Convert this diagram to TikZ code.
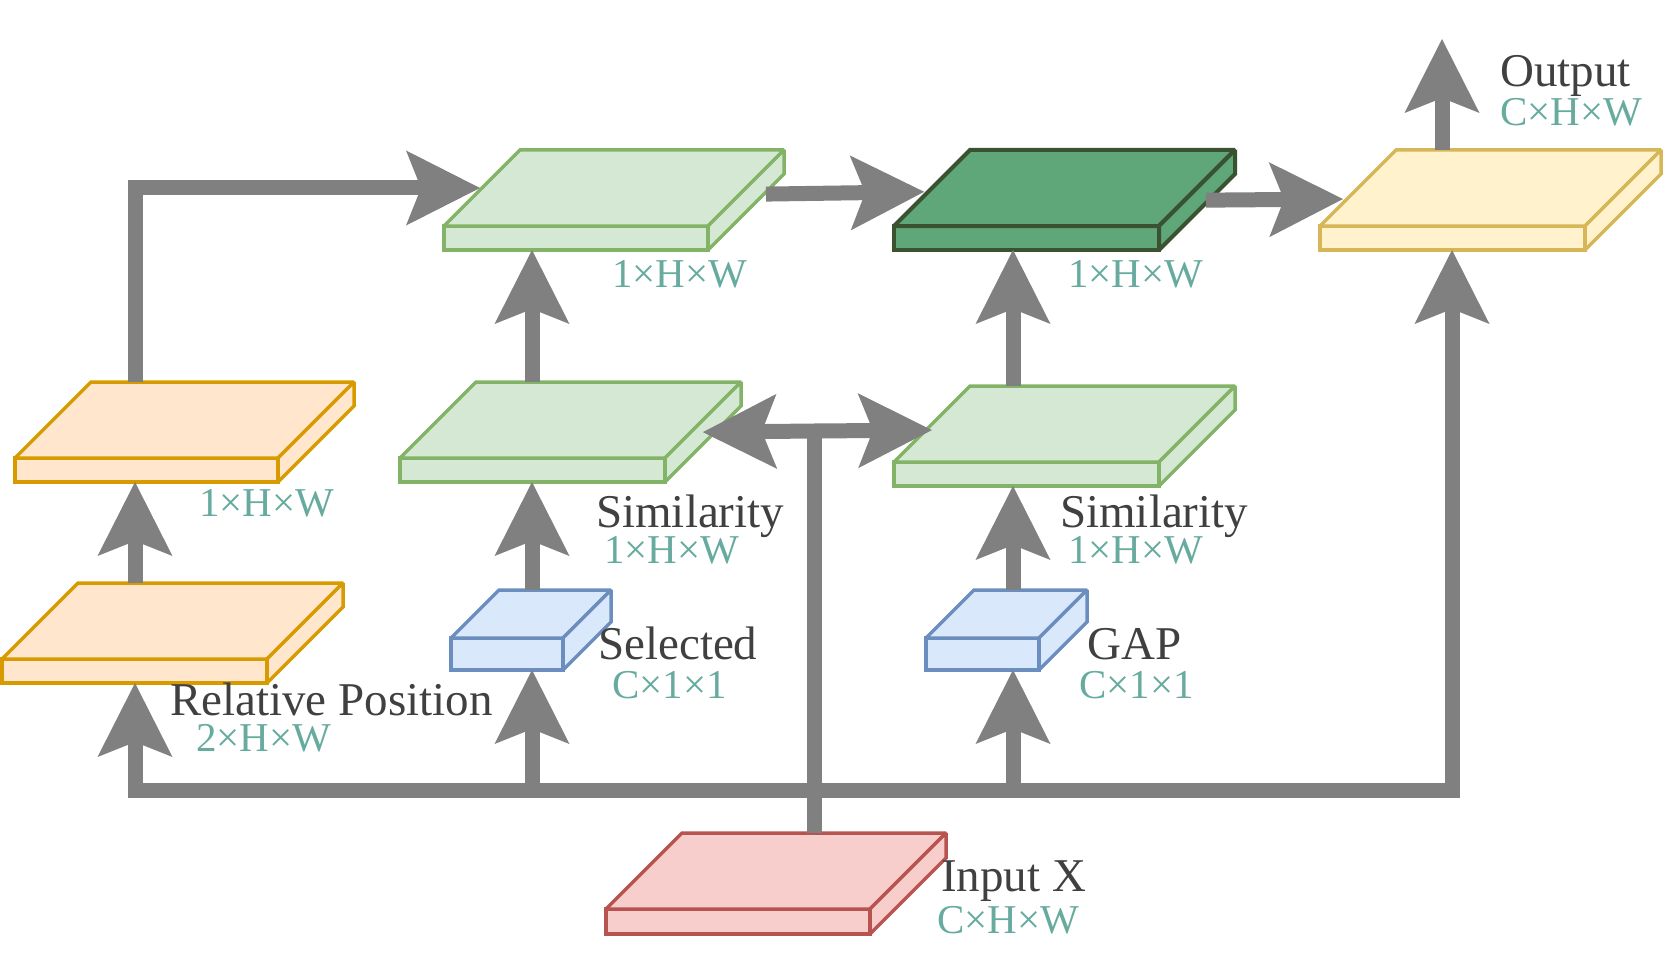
\documentclass[tikz,border=0pt]{standalone}
\usepackage{fontspec}
\setmainfont{Liberation Serif}
\usepackage{xcolor}
\usetikzlibrary{arrows.meta,positioning,calc}

\definecolor{flowgray}{HTML}{808080}
\definecolor{labeltext}{HTML}{404040}
\definecolor{dimtext}{HTML}{67AB9F}
\definecolor{orangefill}{HTML}{FFE6CC}
\definecolor{orangeline}{HTML}{D79B00}
\definecolor{greenfill}{HTML}{D5E8D4}
\definecolor{greenline}{HTML}{82B366}
\definecolor{darkfill}{HTML}{5FA779}
\definecolor{darkline}{HTML}{3A5230}
\definecolor{yellowfill}{HTML}{FFF2CC}
\definecolor{yellowline}{HTML}{D6B656}
\definecolor{bluefill}{HTML}{DAE8FC}
\definecolor{blueline}{HTML}{6C8EBF}
\definecolor{redfill}{HTML}{F8CECC}
\definecolor{redline}{HTML}{B85450}

% name, style, front top-left, width, height, depth
\newcommand{\slab}[6]{%
  \node[slabfront,#2,minimum width=#4pt,minimum height=#5pt,anchor=north west] (#1) at #3 {};
  \coordinate (#1-nw) at ($(#1.north west)+(#6,-#6)$);
  \coordinate (#1-ne) at ($(#1.north east)+(#6,-#6)$);
  \draw[#2] (#1.north west) -- (#1-nw) -- (#1-ne) -- (#1.north east) -- cycle;
  \draw[#2] (#1.north east) -- (#1-ne) -- ++(0,#5) -- (#1.south east) -- cycle;
}

\begin{document}
\begin{tikzpicture}[x=1pt,y=-1pt]
        \tikzstyle{slabfront}
	  =[rectangle, inner sep=0pt, outer sep=0pt]
        \tikzstyle{slabline}=[line width=3.5pt, miter limit=2]
        \tikzstyle{orangeslab}=[slabline, draw=orangeline, fill=orangefill]
        \tikzstyle{greenslab}=[slabline, draw=greenline, fill=greenfill]
        \tikzstyle{darkslab}=[slabline, draw=darkline, fill=darkfill, line width=4pt]
        \tikzstyle{yellowslab}=[slabline, draw=yellowline, fill=yellowfill]
        \tikzstyle{blueslab}=[slabline, draw=blueline, fill=bluefill]
        \tikzstyle{redslab}=[slabline, draw=redline, fill=redfill]
        \tikzstyle{pipe}=[draw=flowgray, line width=15pt]
        \tikzstyle{flow}=[pipe,
	  -{Stealth[length=74pt, width=75pt, inset=15pt, line width=0pt]}]
        \tikzstyle{lbl}
	  =[text=labeltext, inner sep=0pt, anchor=base west,
	  font=\fontsize{47}{56}\selectfont]
        \tikzstyle{dim}
	  =[text=dimtext, inner sep=0pt, anchor=base west,
	  font=\fontsize{41}{49}\selectfont]

	\useasboundingbox (0,0) rectangle (1672,960);

	\slab{posattn}{greenslab}{(444,226)}{264}{24}{76}
	\slab{fused}{darkslab}{(894,226)}{265}{24}{76}
	\slab{output}{yellowslab}{(1320,226)}{265}{24}{76}
	\slab{posmap}{orangeslab}{(15,458)}{263}{24}{76}
	\slab{simsel}{greenslab}{(400,458)}{265}{24}{76}
	\slab{simgap}{greenslab}{(894,462)}{265}{24}{76}
	\slab{relpos}{orangeslab}{(2,659)}{265}{24}{76}
	\slab{selvec}{blueslab}{(451,638)}{112}{32}{48}
	\slab{gapvec}{blueslab}{(926,638)}{113}{32}{48}
	\slab{input}{redslab}{(606,909)}{264}{25}{76}

	\coordinate (busA) at (135,790);
	\coordinate (busB) at (532,790);
	\coordinate (busX) at (814,790);
	\coordinate (busC) at (1013,790);
	\coordinate (busD) at (1452,790);
	\coordinate (tee) at (814,431);
	\coordinate (top) at (1442,39);

	\draw[flow] (busX) -- (busA) -- (busA |- relpos.south);
	\draw[flow] (busX) -- (busD) -- (busD |- output.south);
	\draw[flow] (busB) -- (busB |- selvec.south);
	\draw[flow] (busC) -- (busC |- gapvec.south);
	\draw[pipe] (busX |- input-nw) -- (tee);
	\draw[flow] (tee)
	  -- ([xshift=12pt]$(simsel.north east)!0.34!(simsel-ne)$);
	\draw[flow] (tee)
	  -- ([xshift=6pt]$(simgap.north west)!0.42!(simgap-nw)$);

	\draw[flow] (busA |- relpos-nw) -- (busA |- posmap.south);
	\draw[flow] (busA |- posmap-nw)
	  |- ([xshift=-2pt]$(posattn.north west)!0.5!(posattn-nw)$);
	\draw[flow] (busB |- selvec-nw) -- (busB |- simsel.south);
	\draw[flow] (busB |- simsel-nw) -- (busB |- posattn.south);
	\draw[flow] (busC |- gapvec-nw) -- (busC |- simgap.south);
	\draw[flow] (busC |- simgap-nw) -- (busC |- fused.south);
	\draw[flow] ([xshift=26pt]$(posattn.north east)!0.42!(posattn-ne)$)
	  -- ([xshift=-4pt]$(fused.north west)!0.45!(fused-nw)$);
	\draw[flow] ([xshift=21pt]$(fused.north east)!0.34!(fused-ne)$)
	  -- ([xshift=-4pt]$(output.north west)!0.355!(output-nw)$);
	\draw[flow] (top |- output-nw) -- (top);

	\node[lbl] (outputlbl) at (1500,87) {Output};
	\node[dim] (outputdim) at (1500,126) {C×H×W};
	\node[dim] (posattndim) at (612,287) {1×H×W};
	\node[dim] (fuseddim) at (1068,287) {1×H×W};
	\node[dim] (posmapdim) at (199,516) {1×H×W};
	\node[lbl] (simsellbl) at (596,527) {Similarity};
	\node[dim] (simseldim) at (604,563) {1×H×W};
	\node[lbl] (simgaplbl) at (1060,527) {Similarity};
	\node[dim] (simgapdim) at (1068,563) {1×H×W};
	\node[lbl] (selveclbl) at (598,659) {Selected};
	\node[dim] (selvecdim) at (612,698) {C×1×1};
	\node[lbl] (gapveclbl) at (1087,659) {GAP};
	\node[dim] (gapvecdim) at (1079,698) {C×1×1};
	\node[lbl] (relposlbl) at (170,715) {Relative Position};
	\node[dim] (relposdim) at (196,751) {2×H×W};
	\node[lbl] (inputlbl) at (941,891) {Input X};
	\node[dim] (inputdim) at (937,933) {C×H×W};
\end{tikzpicture}
\end{document}
